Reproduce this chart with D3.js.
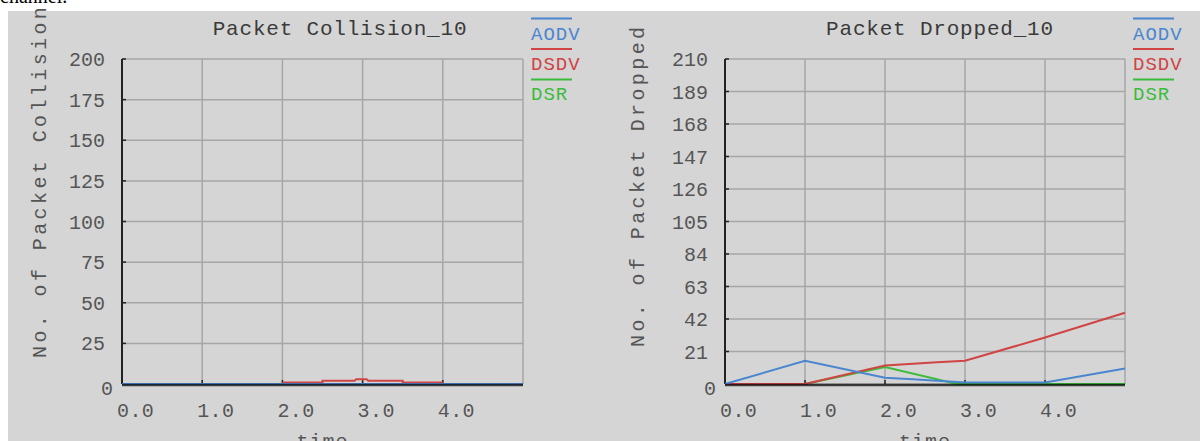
<!DOCTYPE html>
<html>
<head>
<meta charset="utf-8">
<script src="https://cdn.jsdelivr.net/npm/d3@7"></script>
<style>
	body { margin: 0; background: #fff; }
	svg text { font-family: "Courier New", "Liberation Mono", monospace; }
</style>
</head>
<body>
<svg id="chart" width="1200" height="441"></svg>
<script>
// series names
var protocols = ['AODV', 'DSDV', 'DSR'];
var protocolColors = ['#4a86d0', '#d04444', '#3cbc3c'];

// x ticks (same for both graphs)
var timeTicks = [0, 1, 2, 3, 4];

// Packet Collision_10
var collisionTicks = [0, 25, 50, 75, 100, 125, 150, 175, 200];
var collisionAodvTime = [0, 5];
var collisionAodv = [0, 0];
var collisionDsdvTime = [2.0, 2.5, 2.5, 2.9, 2.92, 3.05, 3.07, 3.5, 3.5, 4.0];
var collisionDsdv = [1, 1, 2, 2, 3, 3, 2, 2, 1, 1];
var collisionDsrTime = [0, 5];
var collisionDsr = [0, 0];

// Packet Dropped_10
var droppedTicks = [0, 21, 42, 63, 84, 105, 126, 147, 168, 189, 210];
var droppedAodvTime = [0, 1, 2, 2.35, 2.7, 3, 4, 5];
var droppedAodv = [0, 15, 4, 3, 2, 1, 1, 10];
var droppedDsdvTime = [0, 1, 2, 2.65, 3, 4, 5];
var droppedDsdv = [0, 0, 12, 14, 15, 30, 46];
var droppedDsrTime = [0, 1, 2, 2.9, 3, 4, 5];
var droppedDsr = [0, 0, 11, 0, 0, 0, 0];

var svg = d3.select('#chart');

// page background: white strip of the document, then the grey xgraph window
svg.append('rect').attr('width', 1200).attr('height', 441).attr('fill', '#fff');
svg.append('text')
	.attr('x', 0).attr('y', 3)
	.style('font-family', '"Liberation Serif", serif')
	.style('font-size', '20px')
	.attr('fill', '#000')
	.text('channel.');
svg.append('rect')
	.attr('x', 8).attr('y', 11)
	.attr('width', 1192).attr('height', 430)
	.attr('fill', '#d5d5d5');

function toPoints(times, values) {
	var pts = [];
	times.forEach((t, i) => {
		pts.push({ t: t, v: values[i] });
	});
	return pts;
}

function drawGraph(cfg) {
	var g = svg.append('g');
	var x = d3.scaleLinear().domain([0, 5]).range([cfg.left, cfg.right]);
	var y = d3.scaleLinear().domain([0, cfg.ticks[cfg.ticks.length - 1]]).range([384, 59]);

	// grid
	g.append('g')
		.selectAll('line').data(timeTicks.concat([5])).enter().append('line')
		.attr('x1', d => x(d)).attr('x2', d => x(d))
		.attr('y1', y.range()[1]).attr('y2', y.range()[0])
		.attr('stroke', '#a6a6a6').attr('stroke-width', 1.5);
	g.append('g')
		.selectAll('line').data(cfg.ticks).enter().append('line')
		.attr('x1', cfg.left).attr('x2', cfg.right)
		.attr('y1', d => y(d)).attr('y2', d => y(d))
		.attr('stroke', '#a6a6a6').attr('stroke-width', 1.5);

	// left axis + inner ticks
	g.append('line')
		.attr('x1', cfg.left).attr('x2', cfg.left)
		.attr('y1', y.range()[1]).attr('y2', y.range()[0])
		.attr('stroke', '#222').attr('stroke-width', 2);
	g.append('g')
		.selectAll('line').data(cfg.ticks).enter().append('line')
		.attr('x1', cfg.left).attr('x2', cfg.left + 4)
		.attr('y1', d => y(d)).attr('y2', d => y(d))
		.attr('stroke', '#222').attr('stroke-width', 1.5);

	// y tick labels (zero sits a little lower and to the right)
	g.append('g')
		.selectAll('text').data(cfg.ticks).enter().append('text')
		.attr('x', d => d == 0 ? cfg.left - 9 : cfg.left - 17)
		.attr('y', d => d == 0 ? y(d) + 4 : y(d))
		.attr('dy', '0.35em')
		.attr('text-anchor', 'end')
		.attr('fill', '#555')
		.style('font-size', '20px')
		.text(d => d);

	// x tick labels
	g.append('g')
		.selectAll('text').data(timeTicks).enter().append('text')
		.attr('x', d => x(d) - 5)
		.attr('y', 417)
		.attr('fill', '#555')
		.style('font-size', '20px')
		.style('letter-spacing', '0.4px')
		.text(d => d3.format('.1f')(d));

	// x ticks on the bottom axis
	g.append('g')
		.selectAll('line').data(timeTicks).enter().append('line')
		.attr('x1', d => x(d)).attr('x2', d => x(d))
		.attr('y1', 384).attr('y2', 380)
		.attr('stroke', '#222').attr('stroke-width', 1.5);

	// series, drawn DSR -> DSDV -> AODV
	var line = d3.line().x(d => x(d.t)).y(d => y(d.v));
	[2, 1, 0].forEach(i => {
		g.append('path')
			.datum(toPoints(cfg.times[i], cfg.values[i]))
			.attr('d', line)
			.attr('fill', 'none')
			.attr('stroke', protocolColors[i])
			.attr('stroke-width', 2);
	});

	// bottom axis over the lines
	g.append('line')
		.attr('x1', cfg.left).attr('x2', cfg.right)
		.attr('y1', 385).attr('y2', 385)
		.attr('stroke', '#000').attr('stroke-opacity', 0.72).attr('stroke-width', 2.5);

	// title
	g.append('text')
		.attr('x', cfg.titleX).attr('y', 35)
		.attr('text-anchor', 'middle')
		.attr('fill', '#3a3a3a')
		.style('font-size', '21px')
		.style('letter-spacing', '0.8px')
		.text(cfg.title);

	// y axis label
	g.append('text')
		.attr('transform', 'translate(' + cfg.labelX + ',' + cfg.labelY + ') rotate(-90)')
		.attr('fill', '#555')
		.style('font-size', '20px')
		.style('letter-spacing', '3.4px')
		.text(cfg.yLabel);

	// x axis label
	g.append('text')
		.attr('x', (cfg.left + cfg.right) / 2).attr('y', 448)
		.attr('text-anchor', 'middle')
		.attr('fill', '#555')
		.style('font-size', '20px')
		.style('letter-spacing', '1px')
		.text('time');

	// legend
	var legend = g.append('g');
	protocols.forEach((p, i) => {
		legend.append('line')
			.attr('x1', cfg.legendX).attr('x2', cfg.legendX + 41)
			.attr('y1', 18.5 + i * 30.5).attr('y2', 18.5 + i * 30.5)
			.attr('stroke', protocolColors[i]).attr('stroke-width', 2);
		legend.append('text')
			.attr('x', cfg.legendX).attr('y', 40 + i * 30)
			.attr('fill', protocolColors[i])
			.style('font-size', '19px')
			.style('letter-spacing', '1px')
			.text(p);
	});
}

drawGraph({
	left: 122, right: 523,
	ticks: collisionTicks,
	times: [collisionAodvTime, collisionDsdvTime, collisionDsrTime],
	values: [collisionAodv, collisionDsdv, collisionDsr],
	title: 'Packet Collision_10', titleX: 340,
	yLabel: 'No. of Packet Collision', labelX: 46, labelY: 358,
	legendX: 531
});

drawGraph({
	left: 725, right: 1125,
	ticks: droppedTicks,
	times: [droppedAodvTime, droppedDsdvTime, droppedDsrTime],
	values: [droppedAodv, droppedDsdv, droppedDsr],
	title: 'Packet Dropped_10', titleX: 940,
	yLabel: 'No. of Packet Dropped', labelX: 644, labelY: 347,
	legendX: 1133
});
</script>
</body>
</html>
